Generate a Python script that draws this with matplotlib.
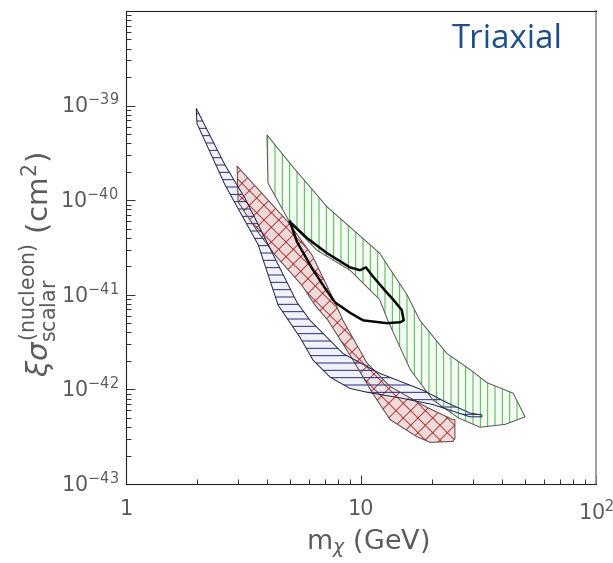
import matplotlib.pyplot as plt
import matplotlib.transforms as mtransforms
import numpy as np

# allowed regions: WIMP mass (GeV) vs log10 of the scalar cross-section (cm^2)
blue_mass = [1.99, 2.64, 3.21, 3.90, 5.34, 6.07, 8.38, 12.0, 18.4, 23.2, 29.1, 32.7,
             32.7, 29.1, 20.2, 14.7, 10.6, 8.98, 7.38, 6.25, 5.50, 4.44, 3.65, 2.64, 2.005]
blue_logsig = [-39.03, -39.63, -39.98, -40.40, -41.08, -41.27, -41.62, -41.83, -42.01, -42.14, -42.25, -42.27,
               -42.29, -42.29, -42.16, -42.09, -42.03, -41.99, -41.87, -41.69, -41.45, -41.11, -40.47, -39.84, -39.19]

red_mass = [2.97, 4.89, 6.19, 7.75, 8.38, 10.6, 13.3, 19.1, 24.6, 25.1, 25.1,
            24.6, 19.7, 17.3, 13.3, 11.2, 9.25, 7.24, 6.37, 5.61, 4.31, 3.65, 3.00]
red_logsig = [-39.64, -40.23, -40.58, -41.08, -41.27, -41.72, -41.97, -42.19, -42.32, -42.32, -42.52,
              -42.55, -42.56, -42.50, -42.32, -42.04, -41.69, -41.27, -41.11, -40.90, -40.58, -40.34, -40.02]

green_mass = [3.98, 5.14, 7.17, 12.0, 15.7, 17.8, 23.2, 29.1, 34.4, 44.4, 49.9,
              41.0, 32.1, 25.9, 20.2, 16.2, 13.0, 12.0, 8.98, 6.50, 4.99, 4.02]
green_logsig = [-39.31, -39.65, -40.07, -40.56, -41.00, -41.27, -41.62, -41.79, -41.93, -42.04, -42.29,
                -42.37, -42.40, -42.30, -42.11, -41.79, -41.27, -41.05, -40.74, -40.53, -40.24, -39.82]

# closed contour (solid black)
loop_mass = [4.99, 5.89, 7.17, 8.98, 9.90, 10.5, 11.1, 12.6, 13.7, 14.9, 15.2,
             14.7, 12.9, 10.2, 8.98, 7.75, 7.03, 6.19, 5.34, 4.99]
loop_logsig = [-40.23, -40.40, -40.56, -40.71, -40.74, -40.71, -40.79, -40.95, -41.05, -41.16, -41.27,
               -41.29, -41.30, -41.27, -41.19, -41.08, -40.93, -40.72, -40.44, -40.23]

DPI = 88
plt.rcParams['hatch.linewidth'] = 0.8

fig = plt.figure(figsize=(613 / DPI, 563 / DPI), dpi=DPI)
ax = fig.add_axes([126 / 613, 79 / 563, 470 / 613, 473 / 563])
ax.set_xscale('log')
ax.set_yscale('log')

bands = [
    # mass, log sigma, face, hatch, hatch colour, outline
    (green_mass, green_logsig, '#f3faf3', '||', '#3cbf3c', '#555555'),
    (red_mass, red_logsig, '#eccbcb', 'xx', '#aa3c3c', '#5a4444'),
    (blue_mass, blue_logsig, '#eceef8', '--', '#26267a', '#222244'),
]

for m, ls, face, hatch, hcol, edge in bands:
    ax.fill(m, 10.0 ** np.array(ls), facecolor=face, edgecolor='none', lw=0, alpha=0.7)
for m, ls, face, hatch, hcol, edge in bands:
    ax.fill(m, 10.0 ** np.array(ls), facecolor='none', edgecolor=hcol, hatch=hatch, lw=0)
for m, ls, face, hatch, hcol, edge in bands:
    ax.fill(m, 10.0 ** np.array(ls), facecolor='none', edgecolor=edge, lw=0.8)

ax.plot(loop_mass, 10.0 ** np.array(loop_logsig), color='black', lw=2.0, solid_joinstyle='round')

ax.set_xlim(1, 100)
ax.set_ylim(1e-43, 1e-38)

ax.set_xticks([1, 10, 100], ['1', '10', r'$10^2$'])
ax.set_yticks([1e-43, 1e-42, 1e-41, 1e-40, 1e-39])
ax.yaxis.set_minor_locator(plt.matplotlib.ticker.LogLocator(subs=np.arange(2, 10)))
ax.yaxis.set_minor_formatter(plt.NullFormatter())
ax.xaxis.set_minor_formatter(plt.NullFormatter())

ax.tick_params(which='both', direction='in', top=False, right=False, width=0.8, colors='#333333',
               labelcolor='#5a5a5a', labelsize=17)
ax.tick_params(which='major', length=7.4)
ax.tick_params(which='minor', length=4.0)
ax.tick_params(axis='x', pad=12)
ax.tick_params(axis='y', pad=6)

# put the "10" of each y label level with its tick, exponent above
shift = mtransforms.ScaledTranslation(0, -8 / DPI, fig.dpi_scale_trans)
for tick in ax.yaxis.get_major_ticks():
    tick.label1.set_verticalalignment('baseline')
    tick.label1.set_transform(tick.label1.get_transform() + shift)

for side in ['left', 'bottom', 'top']:
    ax.spines[side].set_color('#222222')
    ax.spines[side].set_linewidth(0.9)
ax.spines['right'].set_color('#8a8a8a')
ax.spines['right'].set_linewidth(1.3)

ax.set_xlabel(r'm$_\chi$ (GeV)', fontsize=22, color='#5a5a5a')
ax.xaxis.set_label_coords(0.515, -0.093)
ax.set_ylabel(r'$\xi\sigma^{(\mathrm{nucleon})}_{\mathrm{scalar}}$ $(\mathrm{cm}^2)$', fontsize=24, color='#5a5a5a')
ax.yaxis.set_label_coords(-0.14, 0.465)

ax.text(0.694, 0.922, 'Triaxial', transform=ax.transAxes, fontsize=27,
        family=['Open Sans', 'DejaVu Sans'], color='#1f4e8a', ha='left', va='baseline')

fig.savefig('out.png', dpi=DPI)
